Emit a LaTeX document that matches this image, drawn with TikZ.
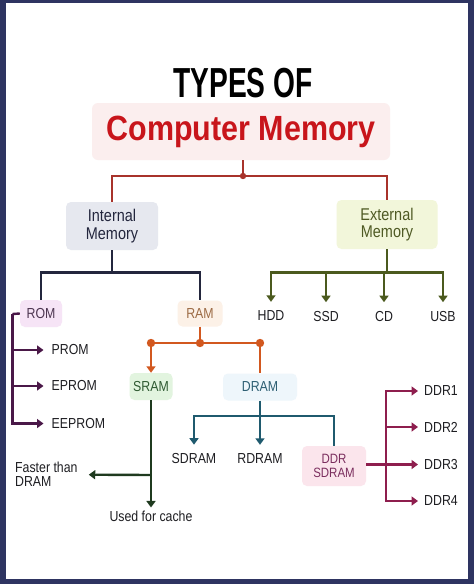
\documentclass[tikz,border=0pt]{standalone}
\usepackage{fontspec}
\setmainfont{Liberation Sans}[FakeStretch=0.85]
\newfontfamily\typesfont{Liberation Sans}[FakeStretch=0.67]
\newfontfamily\memfont{Liberation Sans}[FakeStretch=0.87]
\usetikzlibrary{arrows.meta,positioning}

\definecolor{framecol}{HTML}{2E3461}
\definecolor{titlered}{HTML}{C8151B}
\definecolor{titlebg}{HTML}{FBEEEE}
\definecolor{redline}{HTML}{A8332B}
\definecolor{interbg}{HTML}{E6E8EF}
\definecolor{interink}{HTML}{23263D}
\definecolor{extbg}{HTML}{F2F6DA}
\definecolor{extink}{HTML}{4F5A24}
\definecolor{extline}{HTML}{4B5A1E}
\definecolor{rombg}{HTML}{F6E4F6}
\definecolor{romink}{HTML}{4C3550}
\definecolor{romline}{HTML}{4A1848}
\definecolor{rambg}{HTML}{FCF1E7}
\definecolor{ramink}{HTML}{9C6B45}
\definecolor{ramline}{HTML}{D2581F}
\definecolor{srambg}{HTML}{E2F4DF}
\definecolor{sramink}{HTML}{2F5A32}
\definecolor{sramline}{HTML}{1F3A1F}
\definecolor{drambg}{HTML}{EEF6FB}
\definecolor{dramink}{HTML}{2E5F73}
\definecolor{dramline}{HTML}{1F5A6E}
\definecolor{ddrbg}{HTML}{FBE5EC}
\definecolor{ddrink}{HTML}{7B2E5E}
\definecolor{ddrline}{HTML}{8E1E4E}
\definecolor{leafink}{HTML}{1E1E22}

\begin{document}
\begin{tikzpicture}[x=1pt,y=-1pt,
        memory/.style={rounded corners=5pt, inner sep=0pt, align=center},
        bigbox/.style={memory, font=\fontsize{17}{17.5}\selectfont},
        smallbox/.style={memory, font=\fontsize{14.5}{14}\selectfont},
        leaf/.style={inner sep=0pt, text=leafink, font=\fontsize{14.5}{14}\selectfont},
        link/.style={line width=2.4pt},
        tip/.style={-{Triangle[length=6.5pt,width=9pt]}}]
        \useasboundingbox (0,0) rectangle (474,584);
        \fill[framecol] (0,0) rectangle (474,584);
        \fill[white] (6,3) rectangle (468,579);

        \node[font=\typesfont\bfseries\fontsize{42}{42}\selectfont] (types) at (243,83) {TYPES OF};
        \node[fill=titlebg, rounded corners=6pt, minimum width=298pt, minimum height=57pt,
              text=titlered, font=\memfont\bfseries\fontsize{35}{35}\selectfont] (cm) at (241,131.5) {Computer Memory};

        \node[bigbox, fill=interbg, text=interink, minimum width=92pt, minimum height=48pt] (inter) at (112,226) {Internal\\Memory};
        \node[bigbox, fill=extbg, text=extink, minimum width=101pt, minimum height=49pt] (exter) at (387,224.5) {External\\Memory};

        \node[smallbox, fill=rombg, text=romink, minimum width=42pt, minimum height=27pt] (rom) at (41,313.5) {ROM};
        \node[smallbox, fill=rambg, text=ramink, minimum width=45pt, minimum height=26pt] (ram) at (200,313.5) {RAM};
        \node[smallbox, fill=srambg, text=sramink, minimum width=43pt, minimum height=27pt] (sram) at (151,386.5) {SRAM};
        \node[smallbox, fill=drambg, text=dramink, minimum width=74pt, minimum height=27pt] (dram) at (260,387) {DRAM};
        \node[memory, fill=ddrbg, text=ddrink, minimum width=64pt, minimum height=40pt,
              font=\fontsize{13.5}{13.5}\selectfont] (ddr) at (334,466) {DDR\\SDRAM};

        \node[leaf] (hdd) at (271,316) {HDD};
        \node[leaf] (ssd) at (326,316.5) {SSD};
        \node[leaf] (cd) at (384,316.5) {CD};
        \node[leaf] (usb) at (443,316.5) {USB};

        \node[leaf, anchor=west] (prom) at (51.5,350) {PROM};
        \node[leaf, anchor=west] (eprom) at (51.5,386) {EPROM};
        \node[leaf, anchor=west] (eeprom) at (51.5,423.5) {EEPROM};

        \node[leaf, anchor=west, align=left] (faster) at (15,474.5) {Faster than\\DRAM};
        \node[leaf] (cache) at (151,516) {Used for cache};

        \node[leaf] (sdram) at (194,458.5) {SDRAM};
        \node[leaf] (rdram) at (260,458.5) {RDRAM};

        \node[leaf, anchor=west] (ddr1) at (424,391) {DDR1};
        \node[leaf, anchor=west] (ddr2) at (424,427) {DDR2};
        \node[leaf, anchor=west] (ddr3) at (424,464.5) {DDR3};
        \node[leaf, anchor=west] (ddr4) at (424,501) {DDR4};

        \coordinate (split) at (243,176);
        \coordinate (ifork) at (112,272.5);
        \coordinate (efork) at (387,272.5);
        \coordinate (rspine) at (12.5,314);
        \coordinate (rl) at (151,343);
        \coordinate (rm) at (200,343);
        \coordinate (rr) at (260,343);
        \coordinate (sfork) at (151,475);
        \coordinate (dfork) at (260,416);
        \coordinate (dspine) at (386,464.5);

        \draw[link, redline] (cm.south -| split) -- (split);
        \draw[link, redline] (inter.north) |- (split) -| (exter.north);
        \fill[redline] (split) circle (3.2pt);

        \draw[link, interink] (inter.south) -- (ifork);
        \draw[link, interink] (rom.north) |- (ifork) -| (ram.north);

        \draw[link, extline] (exter.south) -- (efork);
        \foreach \n in {hdd,ssd,cd,usb}
          \draw[link, extline, tip, shorten >=9pt] (efork) -| (\n.north);

        \draw[link, romline] (rom.west) -- (rspine);
        \foreach \n in {prom,eprom,eeprom}
          \draw[link, romline, tip, shorten >=8pt] (rspine) |- (\n.west);

        \draw[link, ramline] (ram.south) -- (rm);
        \draw[link, ramline] (rl) -- (rr);
        \draw[link, ramline, tip] (rl) -- (sram.north);
        \draw[link, ramline] (rr) -- (dram.north);
        \foreach \c in {rl,rm,rr}
          \fill[ramline] (\c) circle (4.2pt);

        \draw[link, sramline, tip, shorten >=3pt] (sram.south) -- (cache.north);
        \draw[link, sramline, tip, shorten >=11pt] (sfork) -- (faster);

        \draw[link, dramline] (dram.south) -- (dfork);
        \draw[link, dramline, tip, shorten >=8.5pt] (dfork) -| (sdram.north);
        \draw[link, dramline, tip, shorten >=8.5pt] (dfork) -- (rdram.north);
        \draw[link, dramline] (dfork) -| (ddr.north);

        \draw[link, ddrline] (ddr.east |- dspine) -- (dspine);
        \foreach \n in {ddr1,ddr2,ddr3,ddr4}
          \draw[link, ddrline, tip, shorten >=6pt] (dspine) |- (\n.west);
\end{tikzpicture}
\end{document}
